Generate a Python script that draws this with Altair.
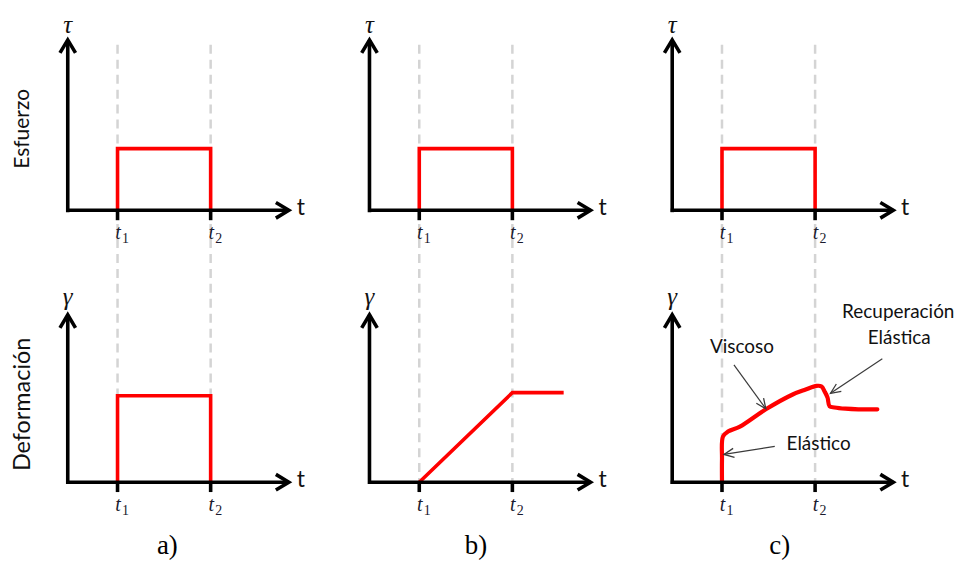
import math
import altair as alt
import pandas as pd

# ---------------- data (diagram units: t1 = 1, stress level = 1) ----------------
panel_labels = ["a)", "b)", "c)"]
row_titles = ["Esfuerzo", "Deformación"]
row_symbols = ["τ", "γ"]
tick_times = [1.0, 2.87]
tick_subs = ["1", "2"]
t_axis_end = 4.44
v_axis_end = [2.76, 2.71]          # stress row, strain row

stress_t = [1.0, 1.0, 2.87, 2.87]
stress_v = [0.0, 1.0, 1.0, 0.0]

strain_a_t = [1.0, 1.0, 2.87, 2.87]
strain_a_v = [0.0, 1.40, 1.40, 0.0]

strain_b_t = [1.0, 2.87, 3.90]
strain_b_v = [0.0, 1.45, 1.45]

strain_c_t = [1.0, 1.0, 1.02, 1.12, 1.36, 1.88, 2.42, 2.68, 2.90, 3.00, 3.06, 3.12, 3.16, 3.26, 3.48, 3.74, 4.12]
strain_c_v = [0.0, 0.37, 0.74, 0.82, 0.90, 1.18, 1.42, 1.50, 1.56, 1.55, 1.47, 1.37, 1.23, 1.21, 1.19, 1.18, 1.18]

ann_text = ["Viscoso", "Elástico", "Recuperación", "Elástica"]
ann_t = [1.40, 2.94, 4.54, 4.56]
ann_v = [2.19, 0.61, 2.76, 2.34]
arrow_from_t = [1.24, 2.06, 4.22]
arrow_from_v = [1.90, 0.58, 2.00]
arrow_to_t = [1.88, 1.04, 3.18]
arrow_to_v = [1.19, 0.45, 1.44]

# ---------------- layout ----------------
PX_X, PX_Y = 50.0, 62.0
W, H = 955, 553
col_origin = [1.2, 7.26, 13.34]
row_base = [5.661, 1.258]
dash_top = 2.68

XS = alt.Scale(domain=[0, W / PX_X], nice=False, zero=False)
YS = alt.Scale(domain=[0, H / PX_Y], nice=False, zero=False)


def X(f="gx"):
    return alt.X(f"{f}:Q", scale=XS, axis=None)


def Y(f="gy"):
    return alt.Y(f"{f}:Q", scale=YS, axis=None)


# red curves
red_rows = []
curves = {
    (0, 0): (stress_t, stress_v), (0, 1): (stress_t, stress_v), (0, 2): (stress_t, stress_v),
    (1, 0): (strain_a_t, strain_a_v), (1, 1): (strain_b_t, strain_b_v),
}
for (r, c), (ts, vs) in curves.items():
    for i, (t, v) in enumerate(zip(ts, vs)):
        red_rows.append({"gx": col_origin[c] + t, "gy": row_base[r] + v, "grp": f"{r}{c}", "ord": i})
red_df = pd.DataFrame(red_rows)
redc_df = pd.DataFrame([
    {"gx": col_origin[2] + t, "gy": row_base[1] + v, "ord": i}
    for i, (t, v) in enumerate(zip(strain_c_t, strain_c_v))
])

# axes, ticks
axis_rows, tick_rows, head_rows = [], [], []
for r in range(2):
    for c in range(3):
        o, b = col_origin[c], row_base[r]
        axis_rows.append({"gx": o, "gy": b - 0.03, "gx2": o, "gy2": b + v_axis_end[r]})
        axis_rows.append({"gx": o - 0.03, "gy": b, "gx2": o + t_axis_end, "gy2": b})
        head_rows.append({"gx": o, "gy": b + v_axis_end[r], "angle": 0})
        head_rows.append({"gx": o + t_axis_end, "gy": b, "angle": 90})
        for tt in tick_times:
            tick_rows.append({"gx": o + tt, "gy": b, "gx2": o + tt, "gy2": b - 0.16})
axis_df = pd.DataFrame(axis_rows + tick_rows)
head_df = pd.DataFrame(head_rows)

dash_df = pd.DataFrame([
    {"gx": col_origin[c] + tt, "gy": row_base[0] + dash_top, "gx2": col_origin[c] + tt, "gy2": row_base[1]}
    for c in range(3) for tt in tick_times
])

# annotation arrows
arr_rows, arr_head = [], []
for ft, fv, tt, tv in zip(arrow_from_t, arrow_from_v, arrow_to_t, arrow_to_v):
    o, b = col_origin[2], row_base[1]
    arr_rows.append({"gx": o + ft, "gy": b + fv, "gx2": o + tt, "gy2": b + tv})
    dx = (tt - ft) * PX_X
    dy = (tv - fv) * PX_Y
    ang = math.degrees(math.atan2(dx, dy)) % 360
    arr_head.append({"gx": o + tt, "gy": b + tv, "angle": ang})
arr_df = pd.DataFrame(arr_rows)
arrh_df = pd.DataFrame(arr_head)

# texts
greek_df = pd.DataFrame([
    {"gx": col_origin[c], "gy": row_base[r] + 3.0, "txt": row_symbols[r]}
    for r in range(2) for c in range(3)
])
taxis_df = pd.DataFrame([
    {"gx": col_origin[c] + 4.68, "gy": row_base[r] + 0.03, "txt": "t"}
    for r in range(2) for c in range(3)
])
tlab_df = pd.DataFrame([
    {"gx": col_origin[c] + tt + 0.01, "gy": row_base[r] - 0.37, "txt": "t"}
    for r in range(2) for c in range(3) for tt in tick_times
])
tsub_df = pd.DataFrame([
    {"gx": col_origin[c] + tt + 0.16, "gy": row_base[r] - 0.46, "txt": s}
    for r in range(2) for c in range(3) for tt, s in zip(tick_times, tick_subs)
])
rowt1_df = pd.DataFrame([
    {"gx": col_origin[0] - 0.9, "gy": row_base[0] + 1.32, "txt": row_titles[0]},
])
rowt2_df = pd.DataFrame([
    {"gx": col_origin[0] - 0.9, "gy": row_base[1] + 1.26, "txt": row_titles[1]},
])
plab_df = pd.DataFrame([
    {"gx": col_origin[c] + dx, "gy": row_base[1] - 1.04, "txt": lab}
    for c, (lab, dx) in enumerate(zip(panel_labels, [2.0, 2.14, 2.16]))
])
ann_df = pd.DataFrame([
    {"gx": col_origin[2] + t, "gy": row_base[1] + v, "txt": s}
    for s, t, v in zip(ann_text, ann_t, ann_v)
])

layers = [
    alt.Chart(dash_df).mark_rule(color="#d4d4d4", strokeWidth=2.5, strokeDash=[9, 6]).encode(
        x=X(), y=Y(), x2="gx2", y2="gy2"),
    alt.Chart(red_df).mark_line(color="#ff0000", strokeWidth=3.6, strokeJoin="miter").encode(
        x=X(), y=Y(), detail="grp:N", order="ord:Q"),
    alt.Chart(redc_df).mark_line(color="#ff0000", strokeWidth=4.2, strokeJoin="round",
                                 strokeCap="round", interpolate="catmull-rom").encode(
        x=X(), y=Y(), order="ord:Q"),
    alt.Chart(axis_df).mark_rule(color="black", strokeWidth=3.6).encode(
        x=X(), y=Y(), x2="gx2", y2="gy2"),
    alt.Chart(head_df).mark_point(shape="M-0.6,1L0,0L0.6,1", filled=False, color="black",
                                  strokeWidth=3.6, size=676, opacity=1, strokeJoin="miter").encode(
        x=X(), y=Y(), angle=alt.Angle("angle:Q", scale=None)),
    alt.Chart(arr_df).mark_rule(color="#3a3a3a", strokeWidth=1.2).encode(
        x=X(), y=Y(), x2="gx2", y2="gy2"),
    alt.Chart(arrh_df).mark_point(shape="M-0.45,1L0,0L0.45,1", filled=False, color="#3a3a3a",
                                  strokeWidth=1.3, size=400, opacity=1).encode(
        x=X(), y=Y(), angle=alt.Angle("angle:Q", scale=None)),
    alt.Chart(greek_df).mark_text(font="Liberation Serif", fontStyle="italic", fontSize=25,
                                  color="#111111").encode(x=X(), y=Y(), text="txt:N"),
    alt.Chart(taxis_df).mark_text(font="Lato", fontSize=23, color="#111111").encode(
        x=X(), y=Y(), text="txt:N"),
    alt.Chart(tlab_df).mark_text(font="Liberation Serif", fontStyle="italic", fontSize=20,
                                 color="#1a1a2e").encode(x=X(), y=Y(), text="txt:N"),
    alt.Chart(tsub_df).mark_text(font="Liberation Serif", fontSize=14,
                                 color="#1a1a2e").encode(x=X(), y=Y(), text="txt:N"),
    alt.Chart(rowt1_df).mark_text(font="Lato", fontSize=21, angle=270, color="#111111").encode(
        x=X(), y=Y(), text="txt:N"),
    alt.Chart(rowt2_df).mark_text(font="Lato", fontSize=23.5, angle=270, color="#111111").encode(
        x=X(), y=Y(), text="txt:N"),
    alt.Chart(plab_df).mark_text(font="Liberation Serif", fontSize=27, color="black").encode(
        x=X(), y=Y(), text="txt:N"),
    alt.Chart(ann_df).mark_text(font="Lato", fontSize=19, color="#111111").encode(
        x=X(), y=Y(), text="txt:N"),
]

chart = alt.layer(*layers).properties(
    width=W, height=H, padding=0, autosize=alt.AutoSizeParams(type="none")
).configure_view(stroke=None)

chart.save("out.html", embed_options={"renderer": "svg", "actions": False})
